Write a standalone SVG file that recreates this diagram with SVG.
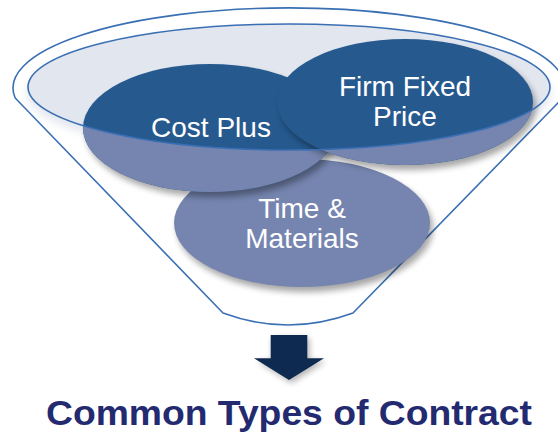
<svg xmlns="http://www.w3.org/2000/svg" width="558" height="434" viewBox="0 0 558 434">
  <defs>
    <style>
      .rim { fill: none; stroke: #3A6FB3; stroke-width: 1.6; }
      .dark { fill: #265A8F; }
      .light { fill: #7585AF; }
      .shadow { fill: #000; opacity: 0.35; filter: url(#blur); }
      .lbl { font-family: "Liberation Sans", Arial, sans-serif; font-size: 28px; fill: #FFFFFF; text-anchor: middle; }
      .title { font-family: "Liberation Sans", Arial, sans-serif; font-size: 35px; font-weight: bold; fill: #232A6F; text-anchor: middle; }
    </style>
    <filter id="blur" x="-20%" y="-20%" width="140%" height="140%">
      <feGaussianBlur stdDeviation="3"/>
    </filter>
    <filter id="softblur" x="-10%" y="-20%" width="120%" height="140%">
      <feGaussianBlur stdDeviation="4"/>
    </filter>
    <clipPath id="below">
      <path clip-rule="evenodd" d="M0,0 H558 V434 H0 Z M28,87 A261,63 0 1,0 550,87 A261,63 0 1,0 28,87 Z"/>
    </clipPath>
  </defs>

  <g id="funnel">
    <path d="M15.2,98 A276,80 0 1,1 562.8,98 L353,313 Q288,337 223,313 Z" fill="#FFFFFF" stroke="#3A6FB3" stroke-width="1.6" stroke-linejoin="round"/>
    <ellipse cx="289" cy="93" rx="262" ry="64" fill="#E3E7EF" filter="url(#softblur)"/>
    <ellipse cx="289" cy="87" rx="261" ry="63" fill="#E2E6EF"/>
  </g>

  <g id="node-time-materials">
    <ellipse class="shadow" cx="305" cy="228" rx="128" ry="64"/>
    <ellipse class="light" cx="302" cy="223" rx="128" ry="64"/>
    <text class="lbl" x="302" y="218">Time &amp;</text>
    <text class="lbl" x="302" y="248">Materials</text>
  </g>

  <g id="node-cost-plus">
    <ellipse class="shadow" cx="213" cy="133" rx="127" ry="64"/>
    <ellipse class="dark" cx="210" cy="128" rx="127" ry="64"/>
    <ellipse class="light" cx="210" cy="128" rx="127" ry="64" clip-path="url(#below)"/>
    <text class="lbl" x="211" y="137">Cost Plus</text>
  </g>

  <g id="node-firm-fixed-price">
    <ellipse class="shadow" cx="408" cy="107" rx="128" ry="63"/>
    <ellipse class="dark" cx="405" cy="102" rx="128" ry="63"/>
    <ellipse class="light" cx="405" cy="102" rx="128" ry="63" clip-path="url(#below)"/>
    <text class="lbl" x="405" y="96">Firm Fixed</text>
    <text class="lbl" x="405" y="126">Price</text>
  </g>

  <g id="rim">
    <ellipse class="rim" cx="289" cy="87" rx="261" ry="63"/>
  </g>

  <g id="connectors">
    <path d="M272.5,338 H309.5 V361 H326 L291.5,383 L257,361 H272.5 Z" fill="#000" opacity="0.3" filter="url(#blur)"/>
    <path d="M270.7,335 H307.3 V358.3 H324 L289,380 L254,358.3 H270.7 Z" fill="#0E2A50"/>
  </g>

  <g id="title">
    <text class="title" x="289" y="425" textLength="486" lengthAdjust="spacingAndGlyphs">Common Types of Contract</text>
  </g>
</svg>
